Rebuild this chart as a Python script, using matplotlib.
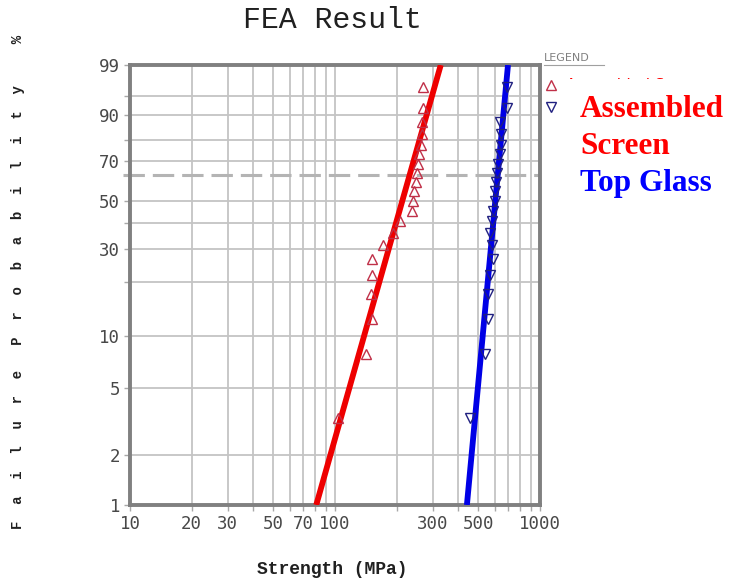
import numpy as np
import matplotlib
matplotlib.use('Agg')
import matplotlib.pyplot as plt
from matplotlib.patches import Rectangle
from matplotlib.lines import Line2D

# failure probability (%) of each sample, same ranks for both groups
rank_prob = [3.3, 7.9, 12.6, 17.3, 22.0, 26.6, 31.3, 36.0, 40.7, 45.3, 50.0,
             54.7, 59.3, 64.0, 68.7, 73.4, 78.0, 82.7, 87.4, 92.1, 96.7]
screen_strength = [103, 141, 152, 149, 152, 152, 171, 191, 207, 237, 239,
                   243, 248, 250, 255, 258, 263, 265, 265, 270, 270]
glass_strength = [455, 539, 560, 560, 570, 592, 581, 570, 581, 592, 603,
                  605, 612, 618, 625, 640, 648, 645, 640, 688, 688]

# weibull fit lines (ends at 1% and 99%)
fit_prob = [1, 99]
screen_fit = [81, 328]
glass_fit = [440, 698]
char_prob = 63.2

x_ticks = [10, 20, 30, 40, 50, 60, 70, 80, 90, 100, 200, 300, 400, 500, 600, 700, 800, 900, 1000]
x_labels = ['10', '20', '30', '', '50', '', '70', '', '', '100', '', '300', '', '500', '', '', '', '', '1000']
y_ticks = [1, 2, 5, 10, 20, 30, 40, 50, 70, 80, 90, 95, 99]
y_labels = ['1', '2', '5', '10', '', '30', '', '50', '70', '', '90', '', '99']


def weib_fwd(p):
    p = np.clip(np.asarray(p, dtype=float), 1e-6, 100 - 1e-6)
    return np.log(-np.log(1 - p / 100))


def weib_inv(t):
    return 100 * (1 - np.exp(-np.exp(t)))


W, H = 741, 578
fig = plt.figure(figsize=(W / 100, H / 100), dpi=100)
ax = fig.add_axes([130 / W, 1 - 505 / H, 410 / W, 440 / H])

ax.set_xscale('log')
ax.set_yscale('function', functions=(weib_fwd, weib_inv))
ax.set_xlim(10, 1000)
ax.set_ylim(1, 99)

ax.set_xticks(x_ticks)
ax.set_xticklabels(x_labels)
ax.xaxis.set_minor_locator(matplotlib.ticker.NullLocator())
ax.set_yticks(y_ticks)
ax.set_yticklabels(y_labels)
ax.yaxis.set_minor_locator(matplotlib.ticker.NullLocator())

ax.grid(True, color='#c4c4c4', lw=1.3)
ax.set_axisbelow(True)
for s in ax.spines.values():
    s.set_color('#808080')
    s.set_linewidth(2.8)
ax.tick_params(direction='out', length=4, width=1, color='#a8a8a8',
               labelcolor='#484848', pad=3)
for lab in ax.get_xticklabels() + ax.get_yticklabels():
    lab.set_fontfamily('DejaVu Sans Mono')
    lab.set_fontsize(12.5)

# 63.2% characteristic line
ax.axhline(char_prob, xmin=-0.018, xmax=1, color='#b4b4b4', lw=2.2,
           ls=(0, (7, 2.6)), clip_on=False, zorder=2)

ax.plot(screen_fit, fit_prob, color='#ee0000', lw=4.2, solid_capstyle='butt', zorder=3)
ax.plot(glass_fit, fit_prob, color='#0000e6', lw=4.2, solid_capstyle='butt', zorder=3)
ax.plot(screen_strength, rank_prob, ls='none', marker='^', ms=7, mfc='none',
        mec='#c03048', mew=1, zorder=4, clip_on=False)
ax.plot(glass_strength, rank_prob, ls='none', marker='v', ms=7, mfc='none',
        mec='#202080', mew=1, zorder=4, clip_on=False)

# original legend, mostly covered later
handles = [Line2D([], [], ls='none', marker='^', ms=7, mfc='none', mec='#c03048'),
           Line2D([], [], ls='none', marker='v', ms=7, mfc='none', mec='#202080')]
leg = ax.legend(handles, ['Assembled Screen', 'Top Glass'], loc='upper left',
                bbox_to_anchor=(545 / W, 1 - 78 / H), bbox_transform=fig.transFigure,
                frameon=False, fontsize=11, handlelength=0.8, handletextpad=0.6,
                labelspacing=0.45, borderpad=0, borderaxespad=0,
                labelcolor=['red', 'blue'])
fig.text(544 / W, 1 - 58 / H, 'LEGEND', size=8, color='#808080', va='center')
fig.add_artist(Line2D([544 / W, 604 / W], [1 - 65 / H, 1 - 65 / H], color='#a0a0a0', lw=0.8))

fig.patches.append(Rectangle((560 / W, 1 - 200 / H), 181 / W, 121 / H,
                             transform=fig.transFigure, facecolor='white',
                             edgecolor='none', zorder=10))
big = dict(family='Liberation Serif', weight='bold', size=22.5, zorder=11, va='baseline')
fig.text(580 / W, 1 - 117 / H, 'Assembled', color='#ff0000', **big)
fig.text(580 / W, 1 - 154 / H, 'Screen', color='#ff0000', **big)
fig.text(580 / W, 1 - 191 / H, 'Top Glass', color='#0000ff', **big)

fig.text(332 / W, 1 - 20 / H, 'FEA Result', family='Liberation Mono', size=21.5,
         ha='center', va='center', color='#202020')
fig.text(332 / W, 1 - 570 / H, 'Strength (MPa)', family='Liberation Mono', size=13,
         weight='bold', ha='center', va='center', color='#202020')
fig.text(18 / W, 1 - 282 / H, 'F  a  i  l  u  r  e   P  r  o  b  a  b  i  l  i  t  y     %',
         family='Liberation Mono', size=10, weight='bold', rotation=90,
         ha='center', va='center', color='#202020')

fig.savefig('out.png', dpi=100, facecolor='white')
